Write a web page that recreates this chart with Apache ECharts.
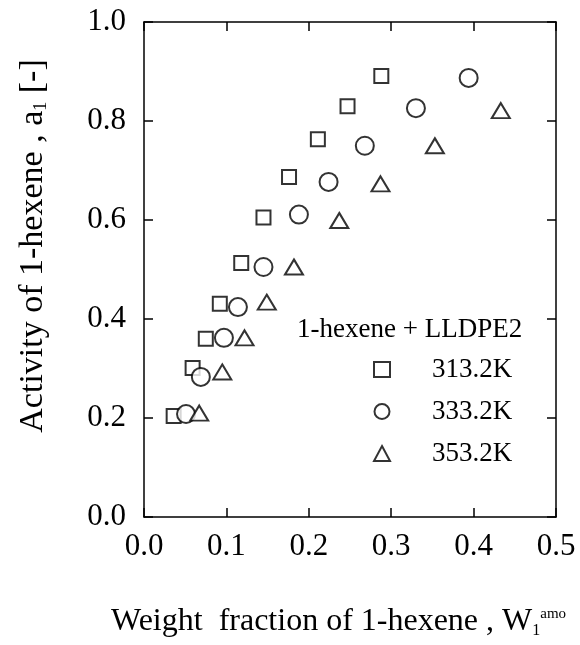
<!DOCTYPE html>
<html>
<head>
<meta charset="utf-8">
<script src="https://cdn.jsdelivr.net/npm/echarts@6/dist/echarts.min.js"></script>
<style>
  html, body { margin: 0; padding: 0; background: #fff; }
  #chart { width: 580px; height: 645px; }
</style>
</head>
<body>
<div id="chart"></div>
<script>
const FONT = "Liberation Serif";

// 1-hexene + LLDPE2, activity vs weight fraction
const seriesNames = ["313.2K", "333.2K", "353.2K"];
const x313 = [0.036, 0.059, 0.075, 0.092, 0.118, 0.145, 0.176, 0.211, 0.247, 0.288];
const y313 = [0.204, 0.301, 0.360, 0.431, 0.513, 0.605, 0.687, 0.763, 0.830, 0.891];
const x333 = [0.051, 0.069, 0.097, 0.114, 0.145, 0.188, 0.224, 0.268, 0.330, 0.394];
const y333 = [0.208, 0.283, 0.362, 0.424, 0.505, 0.611, 0.677, 0.750, 0.826, 0.887];
const x353 = [0.067, 0.095, 0.122, 0.149, 0.182, 0.237, 0.287, 0.353, 0.433];
const y353 = [0.210, 0.293, 0.362, 0.434, 0.505, 0.599, 0.673, 0.750, 0.821];

const pairs = (xs, ys) => xs.map((x, i) => [x, ys[i]]);

const chart = echarts.init(document.getElementById("chart"));

const markerStyle = {
  color: "#fff",
  borderColor: "#000",
  borderWidth: 2,
};

const axisCommon = {
  axisLine: { show: true, onZero: false, lineStyle: { color: "#000", width: 1.5 } },
  axisTick: { show: true, inside: true, length: 9, lineStyle: { color: "#000", width: 1.5 } },
  splitLine: { show: false },
};

const option = {
  backgroundColor: "#fff",
  animation: false,
  grid: { left: 144, right: 24, top: 22, bottom: 128 },
  xAxis: [
    {
      type: "value",
      min: 0,
      max: 0.5,
      interval: 0.1,
      position: "bottom",
      ...axisCommon,
      axisLabel: {
        margin: 14,
        color: "#000",
        fontFamily: FONT,
        fontSize: 31,
        formatter: (v) => v.toFixed(1),
      },
    },
    {
      type: "value",
      min: 0,
      max: 0.5,
      interval: 0.1,
      position: "top",
      ...axisCommon,
      axisLabel: { show: false },
    },
  ],
  yAxis: [
    {
      type: "value",
      min: 0,
      max: 1,
      interval: 0.2,
      position: "left",
      ...axisCommon,
      axisLabel: {
        margin: 18,
        color: "#000",
        fontFamily: FONT,
        fontSize: 31,
        formatter: (v) => v.toFixed(1),
      },
    },
    {
      type: "value",
      min: 0,
      max: 1,
      interval: 0.2,
      position: "right",
      ...axisCommon,
      axisLabel: { show: false },
    },
  ],
  legend: {
    orient: "vertical",
    left: 368,
    top: 351,
    itemWidth: 16,
    itemHeight: 15,
    itemGap: 15,
    data: seriesNames,
    textStyle: {
      color: "#000",
      fontFamily: FONT,
      fontSize: 27,
      padding: [0, 0, 0, 37],
    },
  },
  graphic: [
    {
      type: "text",
      left: 297,
      top: 316,
      style: {
        text: "1-hexene + LLDPE2",
        fill: "#000",
        font: "27px " + FONT,
      },
    },
    {
      type: "text",
      x: 33,
      y: 246,
      rotation: Math.PI / 2,
      style: {
        text: "Activity of 1-hexene , a{sub|1} [-]",
        fill: "#000",
        fontFamily: FONT,
        fontSize: 34,
        align: "center",
        verticalAlign: "middle",
        rich: {
          sub: { fontFamily: FONT, fontSize: 18, padding: [16, 0, 0, 0] },
        },
      },
    },
    {
      type: "text",
      left: 111,
      top: 606,
      style: {
        text: "Weight  fraction of 1-hexene , W{sub|1}{sup|amo}",
        fill: "#000",
        fontFamily: FONT,
        fontSize: 32,
        rich: {
          sub: { fontFamily: FONT, fontSize: 16, padding: [18, 0, 0, 0] },
          sup: { fontFamily: FONT, fontSize: 15, padding: [0, 0, 16, 0] },
        },
      },
    },
  ],
  series: [
    {
      name: seriesNames[0],
      type: "scatter",
      symbol: "rect",
      symbolSize: 14,
      itemStyle: markerStyle,
      data: pairs(x313, y313),
      z: 2,
    },
    {
      name: seriesNames[1],
      type: "scatter",
      symbol: "circle",
      symbolSize: 18,
      itemStyle: markerStyle,
      data: pairs(x333, y333),
      z: 3,
    },
    {
      name: seriesNames[2],
      type: "scatter",
      symbol: "triangle",
      symbolSize: [18, 15],
      itemStyle: markerStyle,
      data: pairs(x353, y353),
      z: 4,
    },
  ],
};

chart.setOption(option);
</script>
</body>
</html>
